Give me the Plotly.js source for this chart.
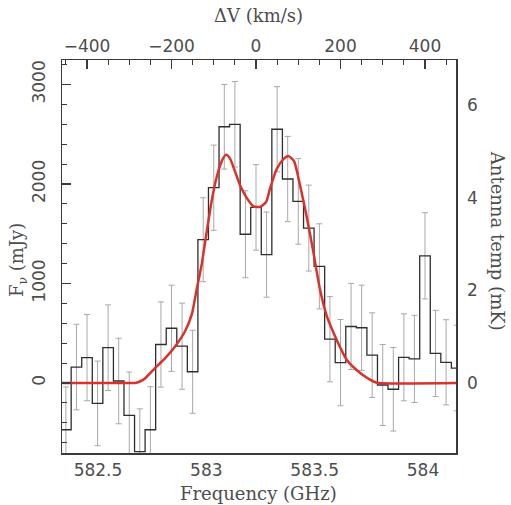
<!DOCTYPE html>
<html><head><meta charset="utf-8">
<script src="https://cdn.plot.ly/plotly-3.0.1.min.js"></script>
<style>html,body{margin:0;padding:0;background:#fff}</style>
</head><body><div id="chart" style="width:511px;height:505px"></div>
<script>
// Bin centres of the spectrum (velocity, km/s)
const velocity = [-450,-425,-400,-375,-350,-325,-300,-275,-250,-225,-200,-175,-150,-125,-100,-75,-50,-25,0,25,50,75,100,125,150,175,200,225,250,275,300,325,350,375,400,425,450,475];
// Flux density per bin (mJy)
const flux = [-470,160,255,-205,355,20,-325,-690,-470,387,550,370,113,1440,1963,2575,2600,1495,1765,1290,2550,2050,1825,1557,1172,440,205,568,555,280,-20,-63,258,242,1278,297,208,150];
// 1-sigma errors (mJy)
const fluxErr = [430,430,433,425,430,430,435,430,433,428,433,433,417,422,428,425,430,437,430,428,428,428,430,432,428,428,433,433,428,425,407,420,437,438,433,433,428,430];
// Fitted line profile (red curve)
const fitVelocity = [-460,-300,-286,-275,-263,-239,-215,-192,-168,-152,-140,-129,-117,-105,-93,-81,-71,-62,-50,-38,-22,-6,10,24,33,49,65,77,90,104,120,136,151,167,183,199,215,238,258,278,290,480];
const fitFlux = [0,0,0,15,45,150,250,365,520,690,950,1180,1510,1830,2070,2230,2295,2260,2130,1990,1860,1775,1770,1820,1950,2150,2250,2280,2230,1990,1670,1310,950,680,510,360,230,130,65,15,0,0];

// axis tick labels
const freqTicks = [582.5, 583, 583.5, 584];
const velTicks = [-400, -200, 0, 200, 400];
const fluxTicks = [0, 1000, 2000, 3000];
const tempTicks = [0, 2, 4, 6];

// step outline built from bin centres
const binW = velocity[1] - velocity[0];
const stepX = velocity.map(v => v - binW / 2).concat([velocity[velocity.length - 1] + binW / 2]);
const stepY = flux.concat([flux[flux.length - 1]]);

const axisCol = '#3a3a3a';
const tickFont = {family: 'DejaVu Sans', size: 17, color: '#4d4d4d'};
const titleFont = {family: 'DejaVu Serif', size: 18, color: '#4d4d4d'};

const traces = [
  {x: velocity, y: flux, xaxis: 'x2', yaxis: 'y', mode: 'markers',
   marker: {size: 2, opacity: 0},
   error_y: {type: 'data', array: fluxErr, visible: true, color: '#a8a8a8', thickness: 1, width: 3},
   hoverinfo: 'skip', showlegend: false},
  {x: stepX, y: stepY, xaxis: 'x2', yaxis: 'y', mode: 'lines',
   line: {shape: 'hv', color: '#2e2e2e', width: 1.3}, showlegend: false},
  {x: fitVelocity, y: fitFlux, xaxis: 'x2', yaxis: 'y', mode: 'lines',
   line: {shape: 'spline', smoothing: 0.6, color: '#d9312b', width: 2.5}, showlegend: false}
];

const common = {showgrid: false, zeroline: false, showline: true, linecolor: axisCol, linewidth: 1.5,
  ticks: 'inside', tickcolor: axisCol, tickwidth: 1.2, ticklen: 9, tickfont: tickFont};

const layout = {
  width: 511, height: 505,
  margin: {l: 62, r: 55, t: 60, b: 52, pad: 0},
  paper_bgcolor: '#fff', plot_bgcolor: '#fff',
  showlegend: false,
  xaxis: Object.assign({}, common, {
    range: [582.3339, 584.1522], tickvals: freqTicks, ticktext: freqTicks.map(String),
    ticklabelstandoff: 1,
    minor: {dtick: 0.1, tick0: 582.5, ticks: 'inside', ticklen: 5, tickcolor: axisCol, tickwidth: 1.1},
    side: 'bottom'}),
  xaxis2: Object.assign({}, common, {
    range: [-459.2, 473.4], overlaying: 'x', side: 'top', anchor: 'y',
    tickvals: velTicks, ticktext: velTicks.map(v => v < 0 ? '\u2212' + Math.abs(v) : String(v)),
    minor: {dtick: 50, tick0: 0, ticks: 'inside', ticklen: 5, tickcolor: axisCol, tickwidth: 1.1}}),
  yaxis: Object.assign({}, common, {
    range: [-703.5, 3246], tickvals: fluxTicks, ticktext: fluxTicks.map(String), tickangle: -90,
    ticklabelstandoff: 9,
    minor: {dtick: 200, tick0: 0, ticks: 'inside', ticklen: 5, tickcolor: axisCol, tickwidth: 1.1}}),
  yaxis2: Object.assign({}, common, {
    range: [-1.511, 6.972], overlaying: 'y', side: 'right', anchor: 'x',
    tickvals: tempTicks, ticktext: tempTicks.map(String),
    ticklabelstandoff: 6,
    minor: {dtick: 0.5, tick0: 0, ticks: 'inside', ticklen: 5, tickcolor: axisCol, tickwidth: 1.1}}),
  annotations: [
    {text: 'Frequency (GHz)', xref: 'paper', yref: 'paper', x: 0.4975, y: -0.1018, showarrow: false, font: titleFont, xanchor: 'center', yanchor: 'middle'},
    {text: '\u0394V (km/s)', xref: 'paper', yref: 'paper', x: 0.4975, y: 1.112, showarrow: false, font: titleFont, xanchor: 'center', yanchor: 'middle'},
    {text: 'F<sub>\u03bd</sub> (mJy)', xref: 'paper', yref: 'paper', x: -0.110, y: 0.49, textangle: -90, showarrow: false, font: titleFont, xanchor: 'center', yanchor: 'middle'},
    {text: 'Antenna temp (mK)', xref: 'paper', yref: 'paper', x: 1.104, y: 0.54, textangle: 90, showarrow: false, font: titleFont, xanchor: 'center', yanchor: 'middle'}
  ]
};

// dummy trace to activate yaxis2
traces.push({x: [0], y: [0], xaxis: 'x', yaxis: 'y2', mode: 'markers', marker: {opacity: 0}, hoverinfo: 'skip', showlegend: false});

Plotly.newPlot('chart', traces, layout, {staticPlot: true, displayModeBar: false});
</script></body></html>
